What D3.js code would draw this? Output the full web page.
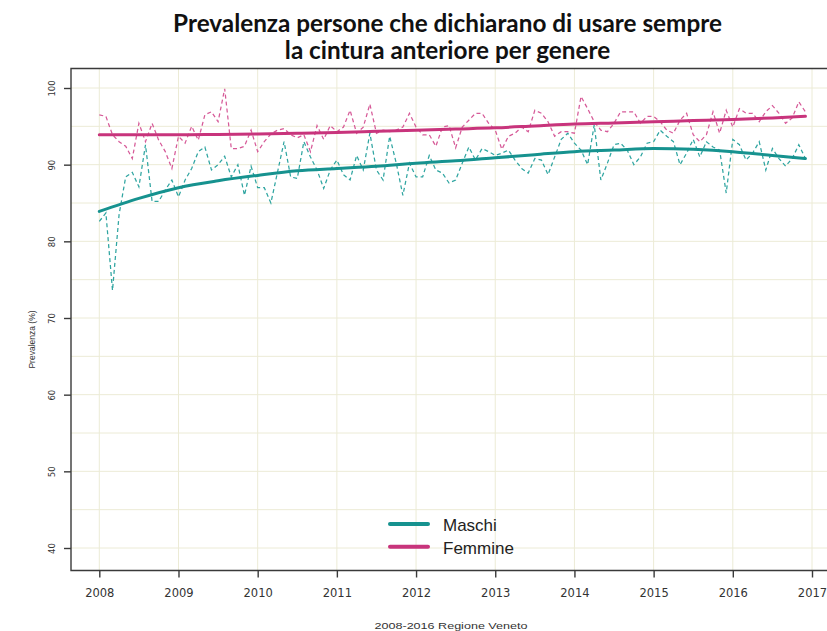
<!DOCTYPE html>
<html>
<head>
<meta charset="utf-8">
<script src="https://cdn.jsdelivr.net/npm/d3@7"></script>
<style>
  html, body { margin: 0; padding: 0; background: #ffffff; }
  svg { display: block; }
</style>
</head>
<body>
<svg id="chart" width="827" height="631"></svg>
<script>
// Monthly prevalence (%), January 2008 .. December 2016
const maschiMensile = [
  82.6, 83.7, 73.6, 83.5, 88.4, 89.0, 87.1, 92.6, 85.2, 85.2, 86.7, 88.0,
  85.8, 88.0, 89.5, 91.7, 92.3, 89.3, 90.0, 91.1, 88.4, 90.0, 86.0, 89.8,
  87.0, 87.0, 85.0, 89.0, 93.0, 88.4, 88.2, 93.0, 91.0, 89.3, 86.9, 89.3,
  90.6, 88.7, 88.0, 91.2, 89.3, 94.1, 89.3, 88.0, 93.7, 90.2, 86.0, 90.2,
  88.4, 88.4, 91.2, 89.3, 88.9, 87.6, 88.0, 90.2, 92.3, 90.6, 92.1, 91.7,
  91.2, 91.5, 91.9, 90.6, 89.5, 88.9, 90.8, 90.6, 88.7, 91.0, 93.3, 94.1,
  92.8, 91.9, 90.0, 95.2, 88.0, 90.2, 92.6, 92.8, 91.9, 90.0, 91.0, 92.8,
  93.0, 94.5, 93.7, 93.0, 90.0, 91.5, 93.3, 91.0, 93.0, 92.3, 91.9, 86.3,
  93.3, 92.6, 90.6, 91.5, 93.0, 89.3, 92.1, 90.8, 89.8, 90.8, 92.6, 90.8
];
const femmineMensile = [
  96.5, 96.3, 93.9, 93.0, 92.4, 90.8, 95.4, 93.0, 95.4, 93.2, 91.7, 89.5,
  93.7, 92.8, 95.0, 93.2, 96.5, 96.9, 95.6, 99.9, 92.1, 92.1, 92.4, 94.5,
  91.7, 93.0, 94.0, 94.5, 94.7, 93.9, 93.5, 93.9, 91.7, 95.1, 93.3, 95.1,
  94.3, 94.9, 97.1, 94.1, 94.9, 97.9, 94.1, 94.5, 94.3, 94.5, 94.9, 96.7,
  94.9, 93.9, 93.9, 92.4, 94.9, 95.1, 92.2, 94.9, 95.8, 96.7, 96.7, 95.4,
  94.5, 92.0, 93.7, 94.1, 94.9, 94.3, 97.1, 96.7, 95.6, 93.7, 94.3, 94.3,
  94.1, 98.9, 97.3, 95.6, 94.5, 94.3, 95.4, 96.9, 96.9, 96.9, 95.4, 96.3,
  96.3, 95.6, 94.5, 94.1, 95.8, 96.7, 93.9, 93.0, 93.9, 96.9, 94.1, 97.1,
  94.9, 97.3, 96.7, 96.7, 95.6, 96.9, 97.7, 96.7, 95.4, 96.1, 98.2, 96.9
];

// Smoothed trend, sampled every half year
const tempiTrend = [2008.0, 2008.5, 2009.0, 2009.5, 2010.0, 2010.5, 2011.0, 2011.5, 2012.0, 2012.5,
                    2013.0, 2013.5, 2014.0, 2014.5, 2015.0, 2015.5, 2016.0, 2016.5, 2016.917];
const maschiTrend = [83.9, 85.6, 87.0, 87.9, 88.6, 89.2, 89.5, 89.8, 90.2, 90.5,
                     90.9, 91.3, 91.7, 91.9, 92.1, 92.0, 91.7, 91.2, 90.8];
const femmineTrend = [93.9, 93.9, 93.9, 93.95, 94.0, 94.1, 94.2, 94.35, 94.5, 94.65,
                      94.8, 95.05, 95.3, 95.45, 95.6, 95.75, 95.9, 96.1, 96.3];

const anniTick = [2008, 2009, 2010, 2011, 2012, 2013, 2014, 2015, 2016, 2017];
const valoriTick = [40, 50, 60, 70, 80, 90, 100];
const valoriGriglia = [40, 45, 50, 55, 60, 65, 70, 75, 80, 85, 90, 95, 100];

const serie = [
  { nome: "Maschi",  mensile: maschiMensile,  trend: maschiTrend,  colore: "#16928f", tratteggio: "#2fa5a1" },
  { nome: "Femmine", mensile: femmineMensile, trend: femmineTrend, colore: "#c8347c", tratteggio: "#d65a98" }
];

const svg = d3.select("#chart");
const box = { left: 71, top: 68.5, right: 830, bottom: 570.5 };

const x = d3.scaleLinear().domain([2008, 2017]).range([99.3, 812]);
const y = d3.scaleLinear().domain([40, 100]).range([548, 88]);

// Grid
const grid = svg.append("g");
grid.selectAll("line.h").data(valoriGriglia).join("line")
  .attr("x1", box.left).attr("x2", box.right)
  .attr("y1", d => y(d)).attr("y2", d => y(d))
  .attr("stroke", "#ecebd6").attr("stroke-width", 1);
grid.selectAll("line.v").data(anniTick).join("line")
  .attr("y1", box.top).attr("y2", box.bottom)
  .attr("x1", d => x(d)).attr("x2", d => x(d))
  .attr("stroke", "#ecebd6").attr("stroke-width", 1);

// Monthly dashed series
const mese = (d, i) => x(2008 + i / 12);
const lineaMensile = d3.line().x(mese).y(d => y(d));
serie.forEach(s => {
  svg.append("path").datum(s.mensile)
    .attr("d", lineaMensile)
    .attr("fill", "none")
    .attr("stroke", s.tratteggio)
    .attr("stroke-width", 1.25)
    .attr("stroke-dasharray", "4,3");
});

// Smoothed trends
const lineaTrend = d3.line()
  .x((d, i) => x(tempiTrend[i]))
  .y(d => y(d))
  .curve(d3.curveMonotoneX);
serie.forEach(s => {
  svg.append("path").datum(s.trend)
    .attr("d", lineaTrend)
    .attr("fill", "none")
    .attr("stroke", s.colore)
    .attr("stroke-width", 3)
    .attr("stroke-linecap", "round");
});

// Plot frame (top, left, bottom)
svg.append("path")
  .attr("d", `M${box.right},${box.top}H${box.left}V${box.bottom}H${box.right}`)
  .attr("fill", "none").attr("stroke", "#3a3a3a").attr("stroke-width", 1.4);

// X axis
const xAxis = svg.append("g")
  .attr("transform", `translate(0,${box.bottom})`)
  .call(d3.axisBottom(x).tickValues(anniTick).tickFormat(d3.format("d")).tickSize(7).tickPadding(11));
xAxis.select(".domain").remove();
xAxis.selectAll(".tick line").attr("stroke", "#3a3a3a").attr("stroke-width", 1.4);
xAxis.selectAll(".tick text")
  .attr("font-family", "DejaVu Sans").attr("font-size", 11.5).attr("fill", "#333");

// Y axis
const yAxis = svg.append("g")
  .attr("transform", `translate(${box.left},0)`)
  .call(d3.axisLeft(y).tickValues(valoriTick).tickSize(7));
yAxis.select(".domain").remove();
yAxis.selectAll(".tick line").attr("stroke", "#3a3a3a").attr("stroke-width", 1.4);
yAxis.selectAll(".tick text")
  .attr("x", null).attr("dy", null)
  .attr("transform", "translate(-19,0) rotate(-90)")
  .attr("text-anchor", "middle")
  .attr("dominant-baseline", "central")
  .attr("font-family", "DejaVu Sans").attr("font-size", 8.5).attr("fill", "#333");

// Axis titles
svg.append("text")
  .attr("transform", `translate(32,${(box.top + box.bottom) / 2 + 20}) rotate(-90)`)
  .attr("text-anchor", "middle").attr("dominant-baseline", "central")
  .attr("font-family", "Liberation Sans").attr("font-size", 8.5).attr("fill", "#333")
  .text("Prevalenza (%)");

svg.append("text")
  .attr("x", 451).attr("y", 629)
  .attr("text-anchor", "middle")
  .attr("font-family", "Liberation Sans").attr("font-size", 9.5).attr("fill", "#333")
  .attr("textLength", 153).attr("lengthAdjust", "spacingAndGlyphs")
  .text("2008-2016 Regione Veneto");

// Title
const titolo = ["Prevalenza persone che dichiarano di usare sempre", "la cintura anteriore per genere"];
svg.selectAll("text.titolo").data(titolo).join("text")
  .attr("class", "titolo")
  .attr("x", 447.5).attr("y", (d, i) => 31.5 + i * 27.5)
  .attr("text-anchor", "middle")
  .attr("font-family", "Lato").attr("font-weight", 700).attr("font-size", 24.3)
  .attr("fill", "#111")
  .text(d => d);

// Legend
const legenda = svg.append("g");
serie.forEach((s, i) => {
  const yy = 524 + i * 22.7;
  legenda.append("line")
    .attr("x1", 390).attr("x2", 428).attr("y1", yy).attr("y2", yy)
    .attr("stroke", s.colore).attr("stroke-width", 4).attr("stroke-linecap", "round");
  legenda.append("text")
    .attr("x", 443).attr("y", yy + 1.5)
    .attr("dominant-baseline", "central")
    .attr("font-family", "Liberation Sans").attr("font-size", 17).attr("fill", "#222")
    .text(s.nome);
});
</script>
</body>
</html>
